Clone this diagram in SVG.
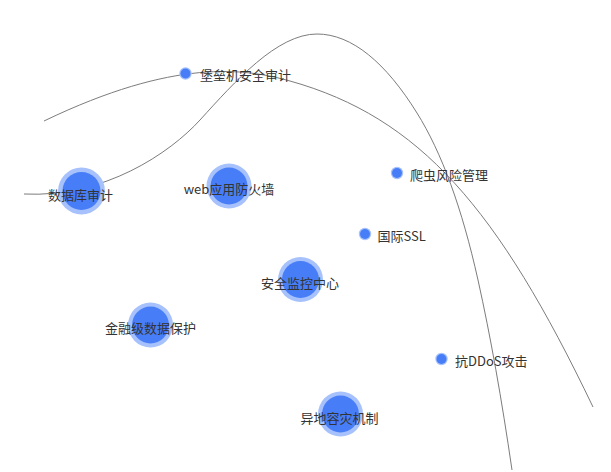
<svg xmlns="http://www.w3.org/2000/svg" width="611" height="472" viewBox="0 0 611 472">
<style>
.edge{fill:none;stroke:#7c7c7c;stroke-width:1}
.halo{fill:#a6c1fb}
.core{fill:#477ef8}
.lbl{font-family:"Noto Sans CJK SC","Microsoft YaHei",sans-serif;font-size:13px;fill:#333;dominant-baseline:central}
.mid{text-anchor:middle}
</style>
<rect width="611" height="472" fill="#ffffff"/>
<g id="connectors">
<path class="edge" d="M44,121 C175,58 245,68.4 290,81 C420,117.4 498,208.5 593,407"/>
<path class="edge" d="M24,194 C104,198 170,153 200,120 C235,81.5 277,34 317,34 C352,34 386,63 417,113 C441.7,152.5 462,208.1 478,280 C490.4,335.8 501.7,399.1 512,470"/>
</g>
<g id="node-baolei">
<circle class="halo" cx="185.5" cy="73.5" r="6.2"/>
<circle class="core" cx="185.5" cy="73.5" r="5"/>
<text class="lbl" x="200" y="74">堡垒机安全审计</text>
</g>
<g id="node-pachong">
<circle class="halo" cx="397" cy="173" r="6.2"/>
<circle class="core" cx="397" cy="173" r="5"/>
<text class="lbl" x="410" y="174">爬虫风险管理</text>
</g>
<g id="node-ssl">
<circle class="halo" cx="365" cy="234" r="6.2"/>
<circle class="core" cx="365" cy="234" r="5"/>
<text class="lbl" x="377.5" y="235">国际SSL</text>
</g>
<g id="node-ddos">
<circle class="halo" cx="441.5" cy="359" r="6.2"/>
<circle class="core" cx="441.5" cy="359" r="5"/>
<text class="lbl" x="455" y="360">抗DDoS攻击</text>
</g>
<g id="node-shujuku">
<circle class="halo" cx="81.5" cy="191" r="23.5"/>
<circle class="core" cx="81.5" cy="191" r="19"/>
<text class="lbl mid" x="80.5" y="194">数据库审计</text>
</g>
<g id="node-waf">
<circle class="halo" cx="229" cy="186" r="22.5"/>
<circle class="core" cx="229" cy="186" r="18.5"/>
<text class="lbl mid" x="229" y="188">web应用防火墙</text>
</g>
<g id="node-jiankong">
<circle class="halo" cx="300.5" cy="279.5" r="22.5"/>
<circle class="core" cx="300.5" cy="279.5" r="18.5"/>
<text class="lbl mid" x="300" y="282">安全监控中心</text>
</g>
<g id="node-jinrong">
<circle class="halo" cx="150.5" cy="325" r="22.5"/>
<circle class="core" cx="150.5" cy="325" r="18.5"/>
<text class="lbl mid" x="150.5" y="327">金融级数据保护</text>
</g>
<g id="node-yidi">
<circle class="halo" cx="340.5" cy="414" r="22.5"/>
<circle class="core" cx="340.5" cy="414" r="18.5"/>
<text class="lbl mid" x="339.5" y="417">异地容灾机制</text>
</g>
</svg>
